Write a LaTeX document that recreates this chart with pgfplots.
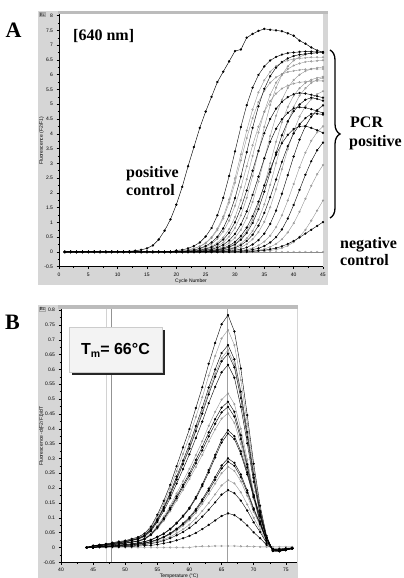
\documentclass[border=0pt]{standalone}
\usepackage{pgfplots}
\pgfplotsset{compat=1.18}
\usepackage{pgfplotstable}
\usepackage{fontspec}
\setmainfont{Liberation Serif}
\setsansfont{Liberation Sans}
\usetikzlibrary{decorations.pathreplacing}
\definecolor{framegray}{RGB}{214,214,214}
\definecolor{topgray}{RGB}{188,188,188}
\definecolor{boxgray}{RGB}{243,243,243}
\definecolor{lightcurve}{RGB}{140,140,140}

\pgfplotstableread{
c pc s1 s2 s3 s4 s5 s6 s7 s8 s9 s10 s11 s12 s13 s14 s15 s16 s17 s18 s19 s20 s21 s22 nc
1 0.00 0 0 0 0 0 0 0 0 0 0 0 0 0 0 0 0 0 0 0 0 0 0 0
2 0.00 0 0 0 0 0 0 0 0 0 0 0 0 0 0 0 0 0 0 0 0 0 0 0
3 0.00 0 0 0 0 0 0 0 0 0 0 0 0 0 0 0 0 0 0 0 0 0 0 0
4 0.00 0 0 0 0 0 0 0 0 0 0 0 0 0 0 0 0 0 0 0 0 0 0 0
5 0.00 0 0 0 0 0 0 0 0 0 0 0 0 0 0 0 0 0 0 0 0 0 0 0
6 0.00 0 0 0 0 0 0 0 0 0 0 0 0 0 0 0 0 0 0 0 0 0 0 0
7 0.00 0 0 0 0 0 0 0 0 0 0 0 0 0 0 0 0 0 0 0 0 0 0 0
8 0.00 0 0 0 0 0 0 0 0 0 0 0 0 0 0 0 0 0 0 0 0 0 0 0
9 0.00 0 0 0 0 0 0 0 0 0 0 0 0 0 0 0 0 0 0 0 0 0 0 0
10 0.01 0 0 0 0 0 0 0 0 0 0 0 0 0 0 0 0 0 0 0 0 0 0 0
11 0.01 0 0 0 0 0 0 0 0 0 0 0 0 0 0 0 0 0 0 0 0 0 0 0
12 0.02 0 0 0 0 0 0 0 0 0 0 0 0 0 0 0 0 0 0 0 0 0 0 0
13 0.04 0 0 0 0 0 0 0 0 0 0 0 0 0 0 0 0 0 0 0 0 0 0 0
14 0.07 0 0 0 0 0 0 0 0 0 0 0 0 0 0 0 0 0 0 0 0 0 0 0
15 0.12 0 0 0 0 0 0 0 0 0 0 0 0 0 0 0 0 0 0 0 0 0 0 0
16 0.22 0 0 0 0 0 0 0 0 0 0 0 0 0 0 0 0 0 0 0 0 0 0 0
17 0.42 0 0 0 0 0 0 0 0 0 0 0 0 0 0 0 0 0 0 0 0 0 0 0
18 0.72 0 0 0 0 0 0 0 0 0 0 0 0 0 0 0 0 0 0 0 0 0 0 0
19 1.10 0 0 0 0 0 0 0 0 0 0 0 0 0 0 0 0 0 0 0 0 0 0 0
20 1.60 0.05 0 0 0 0 0 0 0 0 0 0 0 0 0 0 0 0 0 0 0 0 0 0
21 2.20 0.07 0.05 0.04 0 0 0 0 0 0 0 0 0 0 0 0 0 0 0 0 0 0 0 0
22 2.90 0.12 0.07 0.07 0.05 0.04 0 0 0 0 0 0 0 0 0 0 0 0 0 0 0 0 0 0
23 3.55 0.20 0.12 0.11 0.07 0.06 0.05 0.04 0 0 0 0 0 0 0 0 0 0 0 0 0 0 0 0
24 4.20 0.32 0.19 0.18 0.12 0.10 0.07 0.06 0.05 0.04 0 0 0 0 0 0 0 0 0 0 0 0 0 0
25 4.75 0.52 0.31 0.29 0.20 0.17 0.12 0.10 0.07 0.06 0.04 0.03 0 0 0 0 0 0 0 0 0 0 0 0
26 5.25 0.81 0.50 0.47 0.32 0.27 0.19 0.16 0.12 0.09 0.07 0.05 0.04 0.04 0 0 0 0 0 0 0 0 0 0
27 5.75 1.24 0.79 0.74 0.51 0.44 0.31 0.26 0.20 0.15 0.11 0.08 0.07 0.06 0.04 0.03 0 0 0 0 0 0 0 0
28 6.10 1.83 1.20 1.13 0.80 0.69 0.49 0.42 0.32 0.24 0.18 0.13 0.11 0.10 0.07 0.05 0.04 0 0 0 0 0 0 0
29 6.45 2.57 1.78 1.67 1.23 1.06 0.77 0.65 0.52 0.39 0.30 0.21 0.17 0.16 0.11 0.09 0.06 0.04 0 0 0 0 0 0
30 6.80 3.40 2.49 2.34 1.82 1.56 1.18 1.00 0.81 0.61 0.48 0.34 0.28 0.25 0.17 0.14 0.10 0.06 0.03 0 0 0 0 0
31 6.85 4.23 3.30 3.10 2.55 2.19 1.75 1.48 1.24 0.93 0.75 0.54 0.46 0.41 0.28 0.23 0.16 0.09 0.05 0.03 0 0 0 0
32 7.25 4.97 4.11 3.86 3.38 2.90 2.46 2.08 1.83 1.37 1.15 0.82 0.71 0.64 0.46 0.37 0.26 0.15 0.08 0.05 0.03 0 0 0
33 7.38 5.56 4.82 4.53 4.20 3.61 3.25 2.75 2.57 1.93 1.69 1.21 1.09 0.98 0.71 0.58 0.43 0.25 0.13 0.08 0.04 0 0.02 0
34 7.48 5.99 5.40 5.07 4.93 4.24 4.04 3.42 3.40 2.55 2.38 1.70 1.61 1.45 1.09 0.89 0.67 0.40 0.22 0.12 0.06 0.03 0.04 0
35 7.55 6.28 5.81 5.46 5.52 4.74 4.75 4.02 4.23 3.17 3.15 2.25 2.27 2.04 1.61 1.32 1.02 0.62 0.35 0.20 0.10 0.03 0.06 0
36 7.52 6.48 6.10 5.73 5.95 5.11 5.32 4.50 4.97 3.73 3.92 2.80 3.00 2.70 2.27 1.85 1.51 0.95 0.55 0.32 0.17 0.05 0.09 0
37 7.50 6.60 6.29 5.91 6.24 5.36 5.73 4.85 5.56 4.17 4.61 3.29 3.73 3.36 3.00 2.45 2.12 1.40 0.84 0.50 0.27 0.08 0.13 0
38 7.47 6.68 6.41 6.02 6.43 5.53 6.01 5.08 5.99 4.49 5.15 3.68 4.39 3.95 3.73 3.05 2.80 1.97 1.24 0.76 0.43 0.13 0.19 0
39 7.40 6.73 6.48 6.09 6.55 5.63 6.19 5.24 6.28 4.71 5.55 3.96 4.91 4.42 4.39 3.58 3.48 2.60 1.74 1.13 0.66 0.21 0.27 0
40 7.32 6.75 6.53 6.13 6.63 5.70 6.31 5.34 6.48 4.86 5.82 4.16 5.29 4.76 4.91 4.01 4.09 3.23 2.30 1.59 0.97 0.33 0.37 0
41 7.15 6.77 6.55 6.16 6.68 5.74 6.38 5.38 6.60 4.90 6.00 4.25 5.54 4.99 5.29 4.32 4.58 3.80 2.86 2.10 1.36 0.51 0.49 0
42 7.05 6.78 6.57 6.18 6.70 5.76 6.43 5.36 6.68 4.88 6.12 4.26 5.72 5.15 5.54 4.53 4.93 4.25 3.36 2.61 1.80 0.75 0.62 0
43 6.92 6.78 6.59 6.19 6.72 5.78 6.45 5.32 6.73 4.83 6.19 4.20 5.83 5.22 5.72 4.67 5.17 4.58 3.76 3.07 2.24 1.06 0.75 0
44 6.82 6.77 6.59 6.19 6.74 5.79 6.47 5.27 6.75 4.77 6.23 4.12 5.89 5.18 5.83 4.68 5.34 4.80 4.05 3.44 2.63 1.40 0.88 0
45 6.76 6.76 6.59 6.19 6.74 5.79 6.49 5.22 6.77 4.70 6.26 4.03 5.93 5.12 5.89 4.65 5.44 4.96 4.25 3.70 2.94 1.74 1.01 0
}\ampdata

\pgfplotstableread{
t a b c d e f g h i j k l m n o p q r nc
44 0 0 0 0 0 0 0 0 0 0 0 0 0 0 0 0 0 0 0.000
45 0.006 0.006 0.005 0.005 0.005 0.005 0.004 0.004 0.004 0.004 0 0 0 0 0 0 0 0 0.000
46 0.009 0.009 0.008 0.008 0.008 0.007 0.006 0.006 0.006 0.005 0.004 0.004 0.003 0.003 0.003 0.002 0.002 0.001 0.000
47 0.012 0.011 0.010 0.010 0.010 0.009 0.008 0.007 0.007 0.007 0.004 0.004 0.003 0.003 0.003 0.002 0.002 0.001 0.000
48 0.016 0.015 0.014 0.013 0.013 0.012 0.010 0.010 0.009 0.009 0.006 0.006 0.005 0.004 0.004 0.003 0.003 0.002 0.000
49 0.020 0.018 0.017 0.017 0.016 0.015 0.013 0.012 0.012 0.011 0.008 0.008 0.006 0.006 0.005 0.005 0.004 0.002 0.000
50 0.023 0.022 0.020 0.020 0.020 0.018 0.016 0.015 0.014 0.014 0.010 0.010 0.008 0.007 0.007 0.006 0.005 0.003 0.000
51 0.029 0.027 0.025 0.025 0.024 0.023 0.019 0.018 0.018 0.017 0.012 0.012 0.009 0.009 0.008 0.007 0.006 0.003 0.000
52 0.035 0.033 0.031 0.030 0.029 0.028 0.023 0.022 0.021 0.020 0.016 0.015 0.012 0.012 0.011 0.009 0.008 0.005 0.000
53 0.047 0.044 0.041 0.040 0.039 0.037 0.031 0.029 0.028 0.027 0.020 0.019 0.015 0.014 0.014 0.011 0.010 0.006 0.000
54 0.070 0.066 0.061 0.060 0.059 0.055 0.047 0.044 0.043 0.041 0.026 0.025 0.020 0.019 0.018 0.015 0.013 0.007 0.000
55 0.110 0.103 0.095 0.093 0.091 0.086 0.073 0.069 0.066 0.063 0.036 0.035 0.027 0.026 0.024 0.020 0.017 0.010 0.000
56 0.157 0.147 0.136 0.133 0.131 0.123 0.104 0.098 0.095 0.090 0.047 0.046 0.036 0.035 0.033 0.027 0.023 0.014 0.000
57 0.211 0.198 0.184 0.180 0.176 0.166 0.140 0.133 0.128 0.122 0.063 0.061 0.048 0.046 0.044 0.036 0.031 0.018 0.000
58 0.274 0.257 0.239 0.233 0.229 0.215 0.182 0.172 0.166 0.158 0.083 0.081 0.063 0.061 0.057 0.048 0.041 0.024 0.000
59 0.337 0.315 0.293 0.286 0.281 0.264 0.223 0.211 0.204 0.194 0.107 0.104 0.081 0.078 0.073 0.061 0.052 0.031 0.000
60 0.399 0.374 0.348 0.339 0.333 0.314 0.265 0.250 0.242 0.231 0.134 0.131 0.102 0.098 0.092 0.077 0.066 0.039 0.000
61 0.470 0.440 0.409 0.399 0.392 0.369 0.311 0.295 0.284 0.271 0.170 0.165 0.129 0.124 0.117 0.098 0.083 0.049 0.003
62 0.540 0.506 0.471 0.459 0.451 0.424 0.358 0.339 0.327 0.312 0.213 0.207 0.162 0.156 0.147 0.123 0.104 0.062 0.004
63 0.619 0.579 0.539 0.525 0.516 0.486 0.410 0.388 0.374 0.357 0.261 0.253 0.198 0.191 0.180 0.150 0.127 0.076 0.004
64 0.689 0.645 0.600 0.585 0.575 0.541 0.457 0.432 0.417 0.398 0.312 0.303 0.237 0.228 0.215 0.179 0.152 0.091 0.005
65 0.752 0.704 0.655 0.638 0.627 0.590 0.498 0.471 0.455 0.434 0.363 0.353 0.276 0.266 0.250 0.209 0.178 0.106 0.005
66 0.783 0.733 0.682 0.665 0.653 0.615 0.519 0.491 0.474 0.452 0.395 0.384 0.300 0.289 0.272 0.227 0.193 0.115 0.005
67 0.728 0.682 0.634 0.618 0.607 0.572 0.483 0.457 0.441 0.420 0.375 0.365 0.285 0.275 0.258 0.216 0.183 0.109 0.005
68 0.603 0.564 0.525 0.512 0.503 0.474 0.400 0.378 0.365 0.348 0.324 0.315 0.246 0.237 0.223 0.186 0.158 0.094 0.004
69 0.446 0.418 0.389 0.379 0.372 0.351 0.296 0.280 0.270 0.258 0.253 0.246 0.192 0.185 0.174 0.145 0.124 0.074 0.004
70 0.282 0.264 0.246 0.239 0.235 0.221 0.187 0.177 0.171 0.163 0.174 0.169 0.132 0.127 0.120 0.100 0.085 0.051 0.003
71 0.141 0.132 0.123 0.120 0.118 0.111 0.093 0.088 0.085 0.081 0.107 0.104 0.081 0.078 0.073 0.061 0.052 0.031 0.002
72 0.039 0.037 0.034 0.033 0.033 0.031 0.026 0.025 0.024 0.023 0.032 0.031 0.024 0.023 0.022 0.018 0.015 0.009 0.002
73 -0.012 -0.012 -0.011 -0.011 -0.011 -0.010 -0.010 -0.009 -0.009 -0.009 -0.008 -0.008 -0.007 -0.007 -0.007 -0.006 -0.006 -0.005 0.002
74 -0.013 -0.013 -0.012 -0.012 -0.012 -0.011 -0.011 -0.010 -0.010 -0.010 -0.009 -0.009 -0.008 -0.008 -0.008 -0.007 -0.006 -0.005 0.002
75 -0.009 -0.009 -0.009 -0.008 -0.008 -0.008 -0.007 -0.007 -0.007 -0.006 -0.006 -0.006 -0.005 -0.005 -0.005 -0.004 -0.004 -0.003 0.002
76 -0.004 -0.004 -0.004 -0.004 -0.004 -0.003 -0.003 -0.003 -0.003 -0.003 -0.003 -0.003 -0.002 -0.002 -0.002 -0.002 -0.002 -0.001 0.002
}\meltdata

\pgfplotsset{
  dark/.style={black, line width=0.4pt, mark=*, mark size=0.95pt, mark options={solid, fill=black}},
  light/.style={lightcurve, line width=0.35pt, mark=o, mark size=0.9pt, mark options={solid, draw=lightcurve, fill=white}},
  panel/.style={
    scale only axis, clip=false,
    axis x line*=bottom, axis y line*=left,
    axis line style={-, black, line width=0.5pt},
    tick align=outside, major tick length=2.5pt, minor tick length=1.4pt,
    tick style={black, line width=0.4pt},
    minor tick num=1,
    tick label style={font=\sffamily\fontsize{5}{6}\selectfont},
    /pgf/number format/assume math mode=true,
    /pgf/number format/fixed, /pgf/number format/precision=2,
    scaled x ticks=false, scaled y ticks=false,
    axis background/.style={fill=white},
  },
}

\begin{document}
\begin{tikzpicture}[x=1pt,y=1pt]
\useasboundingbox (0pt,0pt) rectangle (404pt,578pt);
% instrument frames
\fill[framegray] (38pt,293pt) rectangle (328pt,567pt);
\fill[topgray] (58pt,564pt) rectangle (328pt,567pt);
\fill[framegray] (38pt,0pt) rectangle (298pt,273pt);
\fill[topgray] (58pt,269pt) rectangle (298pt,273pt);

% ---------------- Panel A ----------------
\begin{axis}[panel, at={(59pt,311.3pt)}, anchor=south west,
  width=264pt, height=252.6pt,
  xmin=0, xmax=45, ymin=-0.5, ymax=8.05,
  xtick={0,5,...,45}, ytick={-0.5,0,...,8}]
\addplot[light] table[x=c,y=nc]{\ampdata};
\addplot[light] table[x=c,y=s2]{\ampdata};
\addplot[light] table[x=c,y=s3]{\ampdata};
\addplot[light] table[x=c,y=s5]{\ampdata};
\addplot[light] table[x=c,y=s6]{\ampdata};
\addplot[light] table[x=c,y=s8]{\ampdata};
\addplot[light] table[x=c,y=s10]{\ampdata};
\addplot[light] table[x=c,y=s12]{\ampdata};
\addplot[light] table[x=c,y=s14]{\ampdata};
\addplot[light] table[x=c,y=s16]{\ampdata};
\addplot[light] table[x=c,y=s18]{\ampdata};
\addplot[light] table[x=c,y=s20]{\ampdata};
\addplot[light] table[x=c,y=s21]{\ampdata};
\addplot[dark] table[x=c,y=s1]{\ampdata};
\addplot[dark] table[x=c,y=s4]{\ampdata};
\addplot[dark] table[x=c,y=s7]{\ampdata};
\addplot[dark] table[x=c,y=s9]{\ampdata};
\addplot[dark] table[x=c,y=s11]{\ampdata};
\addplot[dark] table[x=c,y=s13]{\ampdata};
\addplot[dark] table[x=c,y=s15]{\ampdata};
\addplot[dark] table[x=c,y=s17]{\ampdata};
\addplot[dark] table[x=c,y=s19]{\ampdata};
\addplot[dark] table[x=c,y=s22]{\ampdata};
\addplot[dark, line width=0.45pt] table[x=c,y=pc]{\ampdata};
\end{axis}

% ---------------- Panel B ----------------
\begin{axis}[panel, at={(61pt,15.7pt)}, anchor=south west,
  width=235.7pt, height=253.3pt,
  xmin=40, xmax=76.7, ymin=-0.05, ymax=0.8035,
  xtick={40,45,...,75},
  ytick={-0.05,0,0.05,0.1,0.15,0.2,0.25,0.3,0.35,0.4,0.45,0.5,0.55,0.6,0.65,0.7,0.75,0.8}]
\addplot[gray!35, line width=0.5pt, mark=none] coordinates {(47.0,-0.05) (47.0,0.8035)};
\addplot[gray!85, line width=0.6pt, mark=none] coordinates {(47.9,-0.05) (47.9,0.8035)};
\addplot[gray!75, line width=0.6pt, mark=none] coordinates {(65.85,-0.05) (65.85,0.8035)};
\addplot[light] table[x=t,y=nc]{\meltdata};
\addplot[light] table[x=t,y=b]{\meltdata};
\addplot[light] table[x=t,y=d]{\meltdata};
\addplot[light] table[x=t,y=g]{\meltdata};
\addplot[light] table[x=t,y=j]{\meltdata};
\addplot[light] table[x=t,y=o]{\meltdata};
\addplot[light] table[x=t,y=p]{\meltdata};
\addplot[dark] table[x=t,y=a]{\meltdata};
\addplot[dark] table[x=t,y=c]{\meltdata};
\addplot[dark] table[x=t,y=e]{\meltdata};
\addplot[dark] table[x=t,y=f]{\meltdata};
\addplot[dark] table[x=t,y=h]{\meltdata};
\addplot[dark] table[x=t,y=i]{\meltdata};
\addplot[dark] table[x=t,y=k]{\meltdata};
\addplot[dark] table[x=t,y=l]{\meltdata};
\addplot[dark] table[x=t,y=m]{\meltdata};
\addplot[dark] table[x=t,y=n]{\meltdata};
\addplot[dark] table[x=t,y=q]{\meltdata};
\addplot[dark] table[x=t,y=r]{\meltdata};
\end{axis}

% axis titles (instrument style)
\node[rotate=90, font=\sffamily\fontsize{5}{6}\selectfont] at (41.5pt,437pt) {Fluorescence (F2/F1)};
\node[font=\sffamily\fontsize{5}{6}\selectfont] at (191pt,297pt) {Cycle Number};
\node[rotate=90, font=\sffamily\fontsize{5}{6}\selectfont] at (41.5pt,142pt) {Fluorescence -d(F2/F1)/dT};
\node[font=\sffamily\fontsize{5}{6}\selectfont] at (179pt,1.5pt) {Temperature (\textdegree C)};
% small instrument icons
\node[font=\sffamily\fontsize{4.5}{5}\selectfont, inner sep=0.5pt, draw=gray!70] at (42.5pt,563.5pt) {Bc};
\node[font=\sffamily\fontsize{4.5}{5}\selectfont, inner sep=0.5pt, draw=gray!70] at (42.5pt,269pt) {Bc};

% panel letters and annotations
\node[font=\bfseries\fontsize{22}{22}\selectfont] at (13.5pt,548pt) {A};
\node[font=\bfseries\fontsize{22}{22}\selectfont] at (12.5pt,256pt) {B};
\node[font=\bfseries\fontsize{16}{16}\selectfont, anchor=base west, inner sep=0] at (73pt,537.5pt) {[640 nm]};
\node[font=\bfseries\fontsize{16}{16}\selectfont, anchor=base west, inner sep=0] at (350pt,450.5pt) {PCR};
\node[font=\bfseries\fontsize{16}{16}\selectfont, anchor=base west, inner sep=0] at (349pt,431pt) {positive};
\node[font=\bfseries\fontsize{16}{16}\selectfont, anchor=base west, inner sep=0] at (126pt,400.3pt) {positive};
\node[font=\bfseries\fontsize{16}{16}\selectfont, anchor=base west, inner sep=0] at (126pt,382.5pt) {control};
\node[font=\bfseries\fontsize{16}{16}\selectfont, anchor=base west, inner sep=0] at (340pt,329.5pt) {negative};
\node[font=\bfseries\fontsize{16}{16}\selectfont, anchor=base west, inner sep=0] at (340pt,312.3pt) {control};
\draw[decorate, decoration={brace, amplitude=10pt}, line width=1.3pt] (330pt,528pt) -- (330pt,360pt);

% Tm box
\fill[black!85] (71.5pt,203pt) rectangle (164.5pt,248pt);
\filldraw[fill=boxgray, draw=gray!40, line width=0.4pt] (69pt,205.3pt) rectangle (162pt,250.3pt);
\node[font=\sffamily\bfseries\fontsize{16}{16}\selectfont] at (115.5pt,227.8pt) {T\raisebox{-3.5pt}{\fontsize{10.5}{10.5}\selectfont m}= 66\textdegree C};
\end{tikzpicture}
\end{document}
